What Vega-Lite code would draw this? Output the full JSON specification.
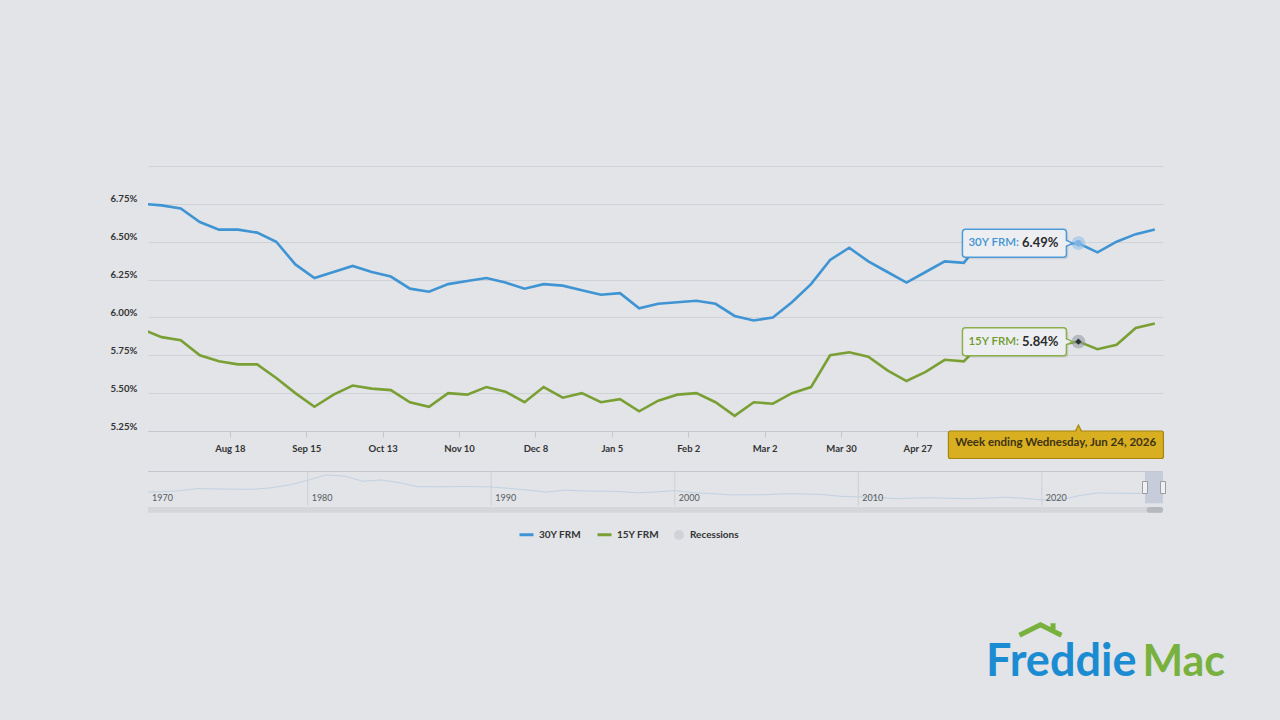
{
  "$schema": "https://vega.github.io/schema/vega-lite/v6.json",
  "width": 1015,
  "height": 265,
  "autosize": {"type": "none"},
  "padding": {"left": 148, "top": 166, "right": 117, "bottom": 289},
  "background": "#e2e4e8",
  "config": {"view": {"stroke": null}, "font": "Lato"},
  "datasets": {
    "rates": [
      {"date": "2025-07-17", "30Y FRM": 6.75, "15Y FRM": 5.92},
      {"date": "2025-07-24", "30Y FRM": 6.74, "15Y FRM": 5.87},
      {"date": "2025-07-31", "30Y FRM": 6.72, "15Y FRM": 5.85},
      {"date": "2025-08-07", "30Y FRM": 6.63, "15Y FRM": 5.75},
      {"date": "2025-08-14", "30Y FRM": 6.58, "15Y FRM": 5.71},
      {"date": "2025-08-21", "30Y FRM": 6.58, "15Y FRM": 5.69},
      {"date": "2025-08-28", "30Y FRM": 6.56, "15Y FRM": 5.69},
      {"date": "2025-09-04", "30Y FRM": 6.50, "15Y FRM": 5.60},
      {"date": "2025-09-11", "30Y FRM": 6.35, "15Y FRM": 5.50},
      {"date": "2025-09-18", "30Y FRM": 6.26, "15Y FRM": 5.41},
      {"date": "2025-09-25", "30Y FRM": 6.30, "15Y FRM": 5.49},
      {"date": "2025-10-02", "30Y FRM": 6.34, "15Y FRM": 5.55},
      {"date": "2025-10-09", "30Y FRM": 6.30, "15Y FRM": 5.53},
      {"date": "2025-10-16", "30Y FRM": 6.27, "15Y FRM": 5.52},
      {"date": "2025-10-23", "30Y FRM": 6.19, "15Y FRM": 5.44},
      {"date": "2025-10-30", "30Y FRM": 6.17, "15Y FRM": 5.41},
      {"date": "2025-11-06", "30Y FRM": 6.22, "15Y FRM": 5.50},
      {"date": "2025-11-13", "30Y FRM": 6.24, "15Y FRM": 5.49},
      {"date": "2025-11-20", "30Y FRM": 6.26, "15Y FRM": 5.54},
      {"date": "2025-11-27", "30Y FRM": 6.23, "15Y FRM": 5.51},
      {"date": "2025-12-04", "30Y FRM": 6.19, "15Y FRM": 5.44},
      {"date": "2025-12-11", "30Y FRM": 6.22, "15Y FRM": 5.54},
      {"date": "2025-12-18", "30Y FRM": 6.21, "15Y FRM": 5.47},
      {"date": "2025-12-25", "30Y FRM": 6.18, "15Y FRM": 5.50},
      {"date": "2026-01-01", "30Y FRM": 6.15, "15Y FRM": 5.44},
      {"date": "2026-01-08", "30Y FRM": 6.16, "15Y FRM": 5.46},
      {"date": "2026-01-15", "30Y FRM": 6.06, "15Y FRM": 5.38},
      {"date": "2026-01-22", "30Y FRM": 6.09, "15Y FRM": 5.45},
      {"date": "2026-01-29", "30Y FRM": 6.10, "15Y FRM": 5.49},
      {"date": "2026-02-05", "30Y FRM": 6.11, "15Y FRM": 5.50},
      {"date": "2026-02-12", "30Y FRM": 6.09, "15Y FRM": 5.44},
      {"date": "2026-02-19", "30Y FRM": 6.01, "15Y FRM": 5.35},
      {"date": "2026-02-26", "30Y FRM": 5.98, "15Y FRM": 5.44},
      {"date": "2026-03-05", "30Y FRM": 6.00, "15Y FRM": 5.43},
      {"date": "2026-03-12", "30Y FRM": 6.10, "15Y FRM": 5.50},
      {"date": "2026-03-19", "30Y FRM": 6.22, "15Y FRM": 5.54},
      {"date": "2026-03-26", "30Y FRM": 6.38, "15Y FRM": 5.75},
      {"date": "2026-04-02", "30Y FRM": 6.46, "15Y FRM": 5.77},
      {"date": "2026-04-09", "30Y FRM": 6.37, "15Y FRM": 5.74},
      {"date": "2026-04-16", "30Y FRM": 6.30, "15Y FRM": 5.65},
      {"date": "2026-04-23", "30Y FRM": 6.23, "15Y FRM": 5.58},
      {"date": "2026-04-30", "30Y FRM": 6.30, "15Y FRM": 5.64},
      {"date": "2026-05-07", "30Y FRM": 6.37, "15Y FRM": 5.72},
      {"date": "2026-05-14", "30Y FRM": 6.36, "15Y FRM": 5.71},
      {"date": "2026-05-21", "30Y FRM": 6.52, "15Y FRM": 5.84},
      {"date": "2026-05-28", "30Y FRM": 6.50, "15Y FRM": 5.82},
      {"date": "2026-06-04", "30Y FRM": 6.53, "15Y FRM": 5.85},
      {"date": "2026-06-11", "30Y FRM": 6.51, "15Y FRM": 5.83},
      {"date": "2026-06-18", "30Y FRM": 6.48, "15Y FRM": 5.82},
      {"date": "2026-06-25", "30Y FRM": 6.49, "15Y FRM": 5.84},
      {"date": "2026-07-02", "30Y FRM": 6.43, "15Y FRM": 5.79},
      {"date": "2026-07-09", "30Y FRM": 6.50, "15Y FRM": 5.82},
      {"date": "2026-07-16", "30Y FRM": 6.55, "15Y FRM": 5.93},
      {"date": "2026-07-23", "30Y FRM": 6.58, "15Y FRM": 5.96}
    ],
    "highlight": [
      {"date": "2026-06-25", "series": "30Y FRM", "rate": 6.49},
      {"date": "2026-06-25", "series": "15Y FRM", "rate": 5.84}
    ],
    "recessions": [
      {"start": "2020-02-01", "end": "2020-04-30", "name": "Recessions"}
    ],
    "history": [
      {"year": 1971.3, "rate": 7.3}, {"year": 1972, "rate": 7.4}, {"year": 1973, "rate": 8.0},
      {"year": 1974, "rate": 9.2}, {"year": 1975, "rate": 9.0}, {"year": 1976, "rate": 8.9},
      {"year": 1977, "rate": 8.8}, {"year": 1978, "rate": 9.6}, {"year": 1979, "rate": 11.2},
      {"year": 1980, "rate": 13.7}, {"year": 1981, "rate": 16.6}, {"year": 1982, "rate": 16.0},
      {"year": 1983, "rate": 13.2}, {"year": 1984, "rate": 13.9}, {"year": 1985, "rate": 12.4},
      {"year": 1986, "rate": 10.2}, {"year": 1987, "rate": 10.2}, {"year": 1988, "rate": 10.3},
      {"year": 1989, "rate": 10.3}, {"year": 1990, "rate": 10.1}, {"year": 1991, "rate": 9.3},
      {"year": 1992, "rate": 8.4}, {"year": 1993, "rate": 7.3}, {"year": 1994, "rate": 8.4},
      {"year": 1995, "rate": 7.9}, {"year": 1996, "rate": 7.8}, {"year": 1997, "rate": 7.6},
      {"year": 1998, "rate": 6.9}, {"year": 1999, "rate": 7.4}, {"year": 2000, "rate": 8.1},
      {"year": 2001, "rate": 7.0}, {"year": 2002, "rate": 6.5}, {"year": 2003, "rate": 5.8},
      {"year": 2004, "rate": 5.8}, {"year": 2005, "rate": 5.9}, {"year": 2006, "rate": 6.4},
      {"year": 2007, "rate": 6.3}, {"year": 2008, "rate": 6.0}, {"year": 2009, "rate": 5.0},
      {"year": 2010, "rate": 4.7}, {"year": 2011, "rate": 4.5}, {"year": 2012, "rate": 3.7},
      {"year": 2013, "rate": 4.0}, {"year": 2014, "rate": 4.2}, {"year": 2015, "rate": 3.9},
      {"year": 2016, "rate": 3.7}, {"year": 2017, "rate": 4.0}, {"year": 2018, "rate": 4.5},
      {"year": 2019, "rate": 3.9}, {"year": 2020, "rate": 3.1}, {"year": 2021, "rate": 3.0},
      {"year": 2022, "rate": 5.3}, {"year": 2023, "rate": 6.8}, {"year": 2024, "rate": 6.7},
      {"year": 2025, "rate": 6.6}, {"year": 2026.5, "rate": 6.5}
    ],
    "decades": [
      {"year": 1970, "label": "1970"}, {"year": 1980, "label": "1980"}, {"year": 1990, "label": "1990"},
      {"year": 2000, "label": "2000"}, {"year": 2010, "label": "2010"}, {"year": 2020, "label": "2020"}
    ]
  },
  "layer": [
    {
      "layer": [
        {
          "data": {"name": "rates"},
          "transform": [{"fold": ["30Y FRM", "15Y FRM"], "as": ["series", "rate"]}],
          "mark": {"type": "line", "strokeWidth": 2.6, "clip": true},
          "encoding": {
            "x": {
              "field": "date", "type": "temporal",
              "scale": {"type": "utc", "nice": false, "domain": [{"year": 2025, "month": 7, "date": 19, "utc": true}, {"year": 2026, "month": 7, "date": 26, "utc": true}]},
              "axis": {
                "title": null, "grid": false,
                "labelExpr": "utcFormat(datum.value, '%b %-d')",
                "values": [
                  {"year": 2025, "month": 8, "date": 18, "utc": true},
                  {"year": 2025, "month": 9, "date": 15, "utc": true},
                  {"year": 2025, "month": 10, "date": 13, "utc": true},
                  {"year": 2025, "month": 11, "date": 10, "utc": true},
                  {"year": 2025, "month": 12, "date": 8, "utc": true},
                  {"year": 2026, "month": 1, "date": 5, "utc": true},
                  {"year": 2026, "month": 2, "date": 2, "utc": true},
                  {"year": 2026, "month": 3, "date": 2, "utc": true},
                  {"year": 2026, "month": 3, "date": 30, "utc": true},
                  {"year": 2026, "month": 4, "date": 27, "utc": true}
                ],
                "tickCount": 30,
                "domainColor": "#c4c8ce", "tickColor": "#c4c8ce", "tickSize": 6,
                "labelFont": "Lato", "labelFontSize": 9.5, "labelFontWeight": "bold", "labelColor": "#333333",
                "labelPadding": 6, "labelFlush": false, "labelOverlap": false
              }
            },
            "y": {
              "field": "rate", "type": "quantitative",
              "scale": {"domain": [5.25, 7], "nice": false, "zero": false},
              "axis": {
                "title": null, "values": [5.25, 5.5, 5.75, 6, 6.25, 6.5, 6.75, 7], "tickCount": 12,
                "labelExpr": "datum.value > 6.9 ? '' : format(datum.value, '.2f') + '%'",
                "grid": true, "gridColor": "#cfd2d7", "gridWidth": 1, "domain": false, "ticks": false, "tickSize": 0,
                "labelAlign": "left", "labelPadding": 38, "labelOffset": -5, "labelBaseline": "middle", "labelOverlap": false,
                "labelFont": "Lato", "labelFontSize": 9.6, "labelFontWeight": "bold", "labelColor": "#333333"
              }
            },
            "color": {
              "field": "series", "type": "nominal",
              "scale": {"domain": ["30Y FRM", "15Y FRM"], "range": ["#3f94d3", "#7aa035"]},
              "legend": {
                "orient": "none", "legendX": 370, "legendY": 360, "direction": "horizontal", "title": null,
                "symbolType": "stroke", "symbolSize": 196, "symbolStrokeWidth": 3,
                "labelFont": "Lato", "labelFontSize": 10, "labelFontWeight": "bold", "labelColor": "#333333",
                "labelOffset": 4, "columnPadding": 9
              }
            }
          }
        },
        {
          "data": {"name": "recessions"},
          "mark": {"type": "rect", "clip": true, "opacity": 1},
          "encoding": {
            "x": {"field": "start", "type": "temporal"},
            "x2": {"field": "end"},
            "fill": {
              "field": "name", "type": "nominal",
              "scale": {"domain": ["Recessions"], "range": ["#cfd2d7"]},
              "legend": {
                "orient": "none", "legendX": 526, "legendY": 364, "direction": "horizontal", "title": null,
                "symbolType": "circle", "symbolSize": 100, "symbolStrokeWidth": 0,
                "labelFont": "Lato", "labelFontSize": 10, "labelFontWeight": "bold", "labelColor": "#333333",
                "labelOffset": 6
              }
            }
          }
        },
        {
          "data": {"name": "highlight"},
          "mark": {"type": "point", "filled": true, "size": 190, "opacity": 0.55},
          "encoding": {
            "x": {"field": "date", "type": "temporal"},
            "y": {"field": "rate", "type": "quantitative"},
            "fill": {"condition": {"test": "datum.series === '30Y FRM'", "value": "#8dbbe6"}, "value": "#9097a0"}
          }
        },
        {
          "data": {"name": "highlight"},
          "mark": {"type": "point", "filled": true, "size": 40, "opacity": 1},
          "encoding": {
            "x": {"field": "date", "type": "temporal"},
            "y": {"field": "rate", "type": "quantitative"},
            "shape": {"condition": {"test": "datum.series === '30Y FRM'", "value": "circle"}, "value": "diamond"},
            "fill": {"condition": {"test": "datum.series === '30Y FRM'", "value": "#7fb3e2"}, "value": "#2e3135"}
          }
        },
        {
          "data": {"name": "highlight"},
          "mark": {"type": "rect", "xOffset": -114, "x2Offset": -10, "yOffset": -12, "y2Offset": 16, "cornerRadius": 3, "fill": "#000000", "fillOpacity": 0.08},
          "encoding": {
            "x": {"field": "date", "type": "temporal"}, "x2": {"field": "date"},
            "y": {"field": "rate", "type": "quantitative"}, "y2": {"field": "rate"}
          }
        },
        {
          "data": {"name": "highlight"},
          "mark": {"type": "point", "shape": "M-1,-1L1,0L-1,1Z", "size": 144, "filled": true, "xOffset": -12, "strokeWidth": 1.5, "opacity": 1, "fill": "#eceef1"},
          "encoding": {
            "x": {"field": "date", "type": "temporal"},
            "y": {"field": "rate", "type": "quantitative"},
            "stroke": {"condition": {"test": "datum.series === '30Y FRM'", "value": "#4d9bd9"}, "value": "#8cae4c"}
          }
        },
        {
          "data": {"name": "highlight"},
          "mark": {"type": "rect", "xOffset": -116, "x2Offset": -12, "yOffset": -14, "y2Offset": 14, "cornerRadius": 3, "fill": "#eceef1", "strokeWidth": 1.5},
          "encoding": {
            "x": {"field": "date", "type": "temporal"}, "x2": {"field": "date"},
            "y": {"field": "rate", "type": "quantitative"}, "y2": {"field": "rate"},
            "stroke": {"condition": {"test": "datum.series === '30Y FRM'", "value": "#4d9bd9"}, "value": "#8cae4c"}
          }
        },
        {
          "data": {"name": "highlight"},
          "mark": {"type": "point", "shape": "M-1,-1L1,0L-1,1Z", "size": 100, "filled": true, "xOffset": -13, "opacity": 1, "color": "#eceef1", "strokeWidth": 0},
          "encoding": {
            "x": {"field": "date", "type": "temporal"},
            "y": {"field": "rate", "type": "quantitative"}
          }
        },
        {
          "data": {"name": "highlight"},
          "transform": [{"calculate": "datum.series + ':'", "as": "labelText"}],
          "mark": {"type": "text", "align": "left", "baseline": "middle", "dx": -110, "dy": 0, "font": "Lato", "fontSize": 11.5, "fontWeight": 600},
          "encoding": {
            "x": {"field": "date", "type": "temporal"},
            "y": {"field": "rate", "type": "quantitative"},
            "text": {"field": "labelText"},
            "fill": {"condition": {"test": "datum.series === '30Y FRM'", "value": "#3f94d3"}, "value": "#6f9a2c"}
          }
        },
        {
          "data": {"name": "highlight"},
          "transform": [{"calculate": "format(datum.rate, '.2f') + '%'", "as": "valueText"}],
          "mark": {"type": "text", "align": "right", "baseline": "middle", "dx": -20, "font": "Lato", "fontSize": 13, "fontWeight": "bold", "fill": "#2b2b2b"},
          "encoding": {
            "x": {"field": "date", "type": "temporal"},
            "y": {"field": "rate", "type": "quantitative"},
            "text": {"field": "valueText"}
          }
        },
        {
          "data": {"name": "highlight"},
          "transform": [{"filter": "datum.series === '30Y FRM'"}],
          "mark": {"type": "point", "shape": "M-1,1L0,-1L1,1Z", "size": 144, "filled": true, "fill": "#d9af22", "stroke": "#a5840f", "strokeWidth": 1.2, "opacity": 1},
          "encoding": {
            "x": {"field": "date", "type": "temporal"},
            "y": {"datum": 5.25, "type": "quantitative"}
          }
        },
        {
          "data": {"name": "highlight"},
          "transform": [{"filter": "datum.series === '30Y FRM'"}],
          "mark": {"type": "rect", "xOffset": -130, "x2Offset": 85, "yOffset": 0, "y2Offset": 27.5, "cornerRadius": 2, "fill": "#d9af22", "stroke": "#a5840f", "strokeWidth": 1.2},
          "encoding": {
            "x": {"field": "date", "type": "temporal"}, "x2": {"field": "date"},
            "y": {"datum": 5.25, "type": "quantitative"}, "y2": {"datum": 5.25}
          }
        },
        {
          "data": {"name": "highlight"},
          "transform": [{"filter": "datum.series === '30Y FRM'"}],
          "mark": {"type": "point", "shape": "M-1,1L0,-1L1,1Z", "size": 100, "filled": true, "yOffset": 1, "color": "#d9af22", "strokeWidth": 0, "opacity": 1},
          "encoding": {
            "x": {"field": "date", "type": "temporal"},
            "y": {"datum": 5.25, "type": "quantitative"}
          }
        },
        {
          "data": {"name": "highlight"},
          "transform": [{"filter": "datum.series === '30Y FRM'"}],
          "mark": {"type": "text", "text": "Week ending Wednesday, Jun 24, 2026", "align": "center", "baseline": "middle", "dx": -22.7, "dy": 12, "font": "Lato", "fontSize": 11.5, "fontWeight": "bold", "fill": "#3d3214"},
          "encoding": {
            "x": {"field": "date", "type": "temporal"},
            "y": {"datum": 5.25, "type": "quantitative"}
          }
        },
        {
          "data": {"values": [{}]},
          "mark": {"type": "point", "shape": "M-1,0.25L0,-0.25L1,0.25M0.6,0.05L0.6,-0.32", "size": 1764, "filled": false, "color": "#78b13d", "strokeWidth": 5, "opacity": 1, "xOffset": -98, "yOffset": -46},
          "encoding": {
            "x": {"datum": {"year": 2026, "month": 7, "date": 17, "utc": true}, "type": "temporal"},
            "y": {"datum": 3.632, "type": "quantitative"}
          }
        },
        {
          "data": {"values": [{}]},
          "mark": {"type": "text", "text": "Freddie", "align": "right", "baseline": "alphabetic", "dx": -2, "font": "Lato", "fontSize": 45, "fontWeight": "bold", "fill": "#1b8cd2"},
          "encoding": {
            "x": {"datum": {"year": 2026, "month": 7, "date": 17, "utc": true}, "type": "temporal"},
            "y": {"datum": 3.632, "type": "quantitative"}
          }
        },
        {
          "data": {"values": [{}]},
          "mark": {"type": "text", "text": "Mac", "align": "left", "baseline": "alphabetic", "dx": 4, "font": "Lato", "fontSize": 43, "fontWeight": "bold", "fill": "#78b13d"},
          "encoding": {
            "x": {"datum": {"year": 2026, "month": 7, "date": 17, "utc": true}, "type": "temporal"},
            "y": {"datum": 3.632, "type": "quantitative"}
          }
        }
      ]
    },
    {
      "layer": [
        {
          "data": {"values": [{}]},
          "mark": {"type": "rect", "fill": "#d4d6da"},
          "encoding": {
            "x": {"datum": 1971.3, "type": "quantitative", "scale": {"domain": [1971.3, 2026.6], "nice": false, "zero": false, "clamp": true}, "axis": null},
            "x2": {"datum": 2026.6},
            "y": {"datum": -0.8, "type": "quantitative", "scale": {"domain": [0, 18.5], "range": [339.5, 305.5], "nice": false, "zero": false}, "axis": null},
            "y2": {"datum": -4.0}
          }
        },
        {
          "data": {"values": [{}]},
          "mark": {"type": "rule", "stroke": "#c3c6cc", "strokeWidth": 1},
          "encoding": {
            "x": {"datum": 1971.3, "type": "quantitative", "axis": null},
            "x2": {"datum": 2026.6},
            "y": {"datum": 18.5, "type": "quantitative", "axis": null}
          }
        },
        {
          "data": {"name": "decades"},
          "transform": [{"filter": "datum.year > 1975"}],
          "mark": {"type": "rule", "stroke": "#cdd0d5", "strokeWidth": 1},
          "encoding": {
            "x": {"field": "year", "type": "quantitative", "axis": null},
            "y": {"datum": 0, "type": "quantitative", "axis": null},
            "y2": {"datum": 18.5}
          }
        },
        {
          "data": {"name": "history"},
          "mark": {"type": "line", "stroke": "#c2d2e2", "strokeWidth": 1},
          "encoding": {
            "x": {"field": "year", "type": "quantitative", "axis": null},
            "y": {"field": "rate", "type": "quantitative", "axis": null}
          }
        },
        {
          "data": {"values": [{}]},
          "mark": {"type": "rect", "fill": "#c3c9d7", "opacity": 0.9},
          "encoding": {
            "x": {"datum": 2025.62, "type": "quantitative", "axis": null},
            "x2": {"datum": 2026.6},
            "y": {"datum": 18.5, "type": "quantitative", "axis": null},
            "y2": {"datum": 1.2}
          }
        },
        {
          "data": {"values": [{}]},
          "mark": {"type": "rect", "fill": "#f0f0f0", "stroke": "#9a9da3", "strokeWidth": 1, "xOffset": -2.5, "x2Offset": 2.5, "yOffset": 10, "y2Offset": 22},
          "encoding": {
            "x": {"datum": 2025.62, "type": "quantitative", "axis": null},
            "x2": {"datum": 2025.62},
            "y": {"datum": 18.5, "type": "quantitative", "axis": null},
            "y2": {"datum": 18.5}
          }
        },
        {
          "data": {"values": [{}]},
          "mark": {"type": "rect", "fill": "#f0f0f0", "stroke": "#9a9da3", "strokeWidth": 1, "xOffset": -2.5, "x2Offset": 2.5, "yOffset": 10, "y2Offset": 22},
          "encoding": {
            "x": {"datum": 2026.6, "type": "quantitative", "axis": null},
            "x2": {"datum": 2026.6},
            "y": {"datum": 18.5, "type": "quantitative", "axis": null},
            "y2": {"datum": 18.5}
          }
        },
        {
          "data": {"values": [{}]},
          "mark": {"type": "rect", "fill": "#b5b8bd", "cornerRadius": 3},
          "encoding": {
            "x": {"datum": 2025.71, "type": "quantitative", "axis": null},
            "x2": {"datum": 2026.6},
            "y": {"datum": -0.8, "type": "quantitative", "axis": null},
            "y2": {"datum": -4.0}
          }
        },
        {
          "data": {"name": "decades"},
          "mark": {"type": "text", "align": "left", "baseline": "middle", "dx": 4, "font": "Lato", "fontSize": 9, "fill": "#555a60"},
          "encoding": {
            "x": {"field": "year", "type": "quantitative", "axis": null},
            "y": {"datum": 4.2, "type": "quantitative", "axis": null},
            "text": {"field": "label"}
          }
        }
      ]
    }
  ],
  "resolve": {"scale": {"x": "independent", "y": "independent"}}
}
